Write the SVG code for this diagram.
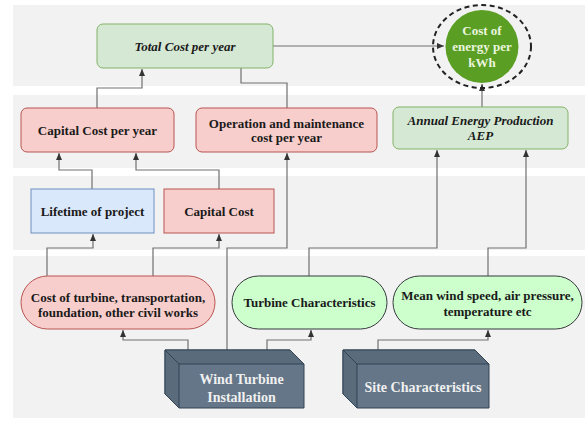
<svg xmlns="http://www.w3.org/2000/svg" width="585" height="421" viewBox="0 0 585 421">
<style>
.band{fill:#f2f2f2}
.t{font-family:"Liberation Serif","Times New Roman",serif;font-weight:bold;font-size:13px;fill:#1a1a1a;text-anchor:middle;dominant-baseline:central}
.it{font-style:italic}
.green{fill:#d5e8d4;stroke:#82b366;stroke-width:1}
.red{fill:#f8cecc;stroke:#b85450;stroke-width:1}
.blue{fill:#dae8fc;stroke:#6c8ebf;stroke-width:1}
.lime{fill:#ccffcc;stroke:#36393d;stroke-width:1}
.cube{fill:#647687;stroke:#314354;stroke-width:1}
.cubeside{fill:#5a6b7c;stroke:#314354;stroke-width:1}
.wt{fill:#f0f0f0;font-size:14px}
.c{fill:none;stroke:#707070;stroke-width:1.2}
</style>
<defs>
<marker id="ah" markerWidth="8" markerHeight="8" refX="7" refY="4" orient="auto" markerUnits="userSpaceOnUse">
<path d="M0,1 L7,4 L0,7 z" fill="#333"/>
</marker>
</defs>
<rect width="585" height="421" fill="#ffffff"/>
<g id="bands">
<rect class="band" x="13" y="5" width="572" height="81"/>
<rect class="band" x="13" y="95" width="572" height="73"/>
<rect class="band" x="13" y="176" width="572" height="74"/>
<rect class="band" x="13" y="256" width="572" height="162"/>
</g>
<g id="connectors">
<path class="c" d="M97,108 V88 H142 V69" marker-end="url(#ah)"/>
<path class="c" d="M287,108 V83 H241 V68"/>
<path class="c" d="M273,46 H444" marker-end="url(#ah)"/>
<path class="c" d="M482,107 V84" marker-end="url(#ah)"/>
<path class="c" d="M92,189 V170 H59 V153" marker-end="url(#ah)"/>
<path class="c" d="M219,189 V170 H136 V153" marker-end="url(#ah)"/>
<path class="c" d="M47,276 V248 H93 V234" marker-end="url(#ah)"/>
<path class="c" d="M153,276 V248 H219 V234" marker-end="url(#ah)"/>
<path class="c" d="M227,350 V248 H287 V153" marker-end="url(#ah)"/>
<path class="c" d="M309,276 V248 H437 V150" marker-end="url(#ah)"/>
<path class="c" d="M488,276 V248 H526 V150" marker-end="url(#ah)"/>
<path class="c" d="M188,350 V340 H123 V330" marker-end="url(#ah)"/>
<path class="c" d="M267,350 V340 H311 V330" marker-end="url(#ah)"/>
<path class="c" d="M378,350 V340 H488 V330" marker-end="url(#ah)"/>
</g>
<g id="total-cost">
<rect class="green" x="97" y="24" width="176" height="44" rx="6"/>
<text class="t it" x="185" y="46">Total Cost per year</text>
</g>
<g id="cost-energy">
<ellipse cx="482" cy="46.5" rx="49" ry="41.5" fill="none" stroke="#222" stroke-width="2" stroke-dasharray="5 3.5"/>
<circle cx="482" cy="46.5" r="36.5" fill="#5a9e24"/>
<text class="t" x="482" y="30" style="fill:#eaf6de">Cost of</text>
<text class="t" x="482" y="46" style="fill:#eaf6de">energy per</text>
<text class="t" x="482" y="62" style="fill:#eaf6de">kWh</text>
</g>
<g id="capital-cost-year">
<rect class="red" x="21" y="108" width="153" height="44" rx="6"/>
<text class="t" x="97.5" y="130">Capital Cost per year</text>
</g>
<g id="om-cost">
<rect class="red" x="196" y="108" width="181" height="44" rx="6"/>
<text class="t" x="286.5" y="123">Operation and maintenance</text>
<text class="t" x="286.5" y="137.5">cost per year</text>
</g>
<g id="aep">
<rect class="green" x="393" y="107" width="175" height="42" rx="6"/>
<text class="t it" x="480.5" y="120.5">Annual Energy Production</text>
<text class="t it" x="480.5" y="135.5">AEP</text>
</g>
<g id="lifetime">
<rect class="blue" x="31" y="189" width="123" height="44"/>
<text class="t" x="92.5" y="211">Lifetime of project</text>
</g>
<g id="capital-cost">
<rect class="red" x="164" y="189" width="110" height="44"/>
<text class="t" x="219" y="211">Capital Cost</text>
</g>
<g id="cost-turbine">
<rect class="red" x="21" y="276" width="194" height="53" rx="26.5"/>
<text class="t" x="118" y="297">Cost of turbine, transportation,</text>
<text class="t" x="118" y="312">foundation, other civil works</text>
</g>
<g id="turbine-char">
<rect class="lime" x="232" y="276" width="155" height="53" rx="26.5"/>
<text class="t" x="309.5" y="302.5">Turbine Characteristics</text>
</g>
<g id="mean-wind">
<rect class="lime" x="393" y="276" width="189" height="53" rx="26.5"/>
<text class="t" x="487.5" y="295">Mean wind speed, air pressure,</text>
<text class="t" x="487.5" y="311">temperature etc</text>
</g>
<g id="wind-turbine-installation">
<path class="cube" d="M165,350 H290 L304,364 V408 H179 L165,394 Z"/>
<path class="cubeside" d="M165,350 L179,364 V408 L165,394 Z"/>
<path class="cubeside" d="M165,350 H290 L304,364 H179 Z"/>
<text class="t wt" x="241.5" y="379">Wind Turbine</text>
<text class="t wt" x="241.5" y="397">Installation</text>
</g>
<g id="site-char">
<path class="cube" d="M343,350 H475 L489,364 V408 H357 L343,394 Z"/>
<path class="cubeside" d="M343,350 L357,364 V408 L343,394 Z"/>
<path class="cubeside" d="M343,350 H475 L489,364 H357 Z"/>
<text class="t wt" x="423" y="387">Site Characteristics</text>
</g>
</svg>
